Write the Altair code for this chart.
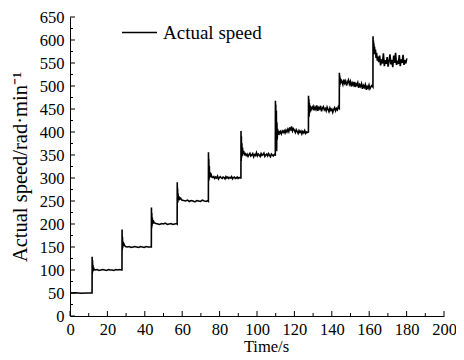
import altair as alt
import numpy as np
import pandas as pd

# ---------------- data ----------------
# level 50 segment
seg0_t = [0, 3, 6, 9, 11.8]
seg0_v = [50, 50.5, 49.5, 50, 50]

# each step: transient times/values, plateau start, plateau sampling step, plateau values
s1_t = [11.8, 11.85, 11.95, 12.05, 12.15, 12.3, 12.45, 12.65, 12.9]
s1_v = [50, 129, 92, 121, 96, 111, 98, 105, 101]
s1_p = [100, 101, 99, 100, 101, 100, 99, 101, 100, 100, 99, 101, 100, 101, 100]

s2_t = [27.8, 27.85, 27.95, 28.05, 28.15, 28.3, 28.5, 28.8, 29.2]
s2_v = [100, 188, 143, 172, 148, 162, 152, 157, 153]
s2_p = [151, 150, 151, 149, 150, 151, 150, 149, 151, 150, 149, 151, 150, 150]

s3_t = [43.5, 43.55, 43.65, 43.75, 43.85, 44.0, 44.2, 44.5, 44.9, 45.4]
s3_v = [150, 236, 191, 224, 195, 214, 200, 208, 203, 202]
s3_p = [201, 200, 199, 201, 200, 202, 199, 200, 201, 199, 200, 201]

s4_t = [57.3, 57.35, 57.45, 57.55, 57.65, 57.8, 58.0, 58.3, 58.7, 59.2]
s4_v = [200, 291, 246, 277, 247, 266, 252, 260, 254, 256]
s4_p = [252, 251, 250, 252, 249, 251, 250, 248, 251, 250, 249, 252, 250, 249, 251]

s5_t = [74.0, 74.05, 74.15, 74.25, 74.35, 74.5, 74.65, 74.85, 75.1, 75.5, 75.9]
s5_v = [250, 356, 293, 342, 296, 326, 300, 313, 303, 307, 302]
s5_p = [301, 303, 299, 302, 300, 304, 298, 301, 303, 300, 299, 302, 301, 298, 303,
        300, 302, 299, 301, 300, 303, 298, 301, 302, 299, 300, 302, 299, 301, 300]

s6_t = [91.4, 91.45, 91.55, 91.65, 91.75, 91.9, 92.05, 92.25, 92.5, 92.85, 93.25]
s6_v = [300, 402, 337, 391, 344, 376, 348, 366, 352, 359, 351]
s6_p = [353, 349, 352, 347, 351, 354, 348, 350, 353, 346, 351, 349, 355, 348, 352, 350,
        347, 353, 349, 351, 354, 347, 350, 352, 348, 353, 349, 346, 352, 350, 348, 351]

s7_t = [109.8, 109.85, 109.95, 110.05, 110.2, 110.35, 110.5, 110.65, 110.8, 111.0, 111.3, 111.6]
s7_v = [350, 468, 412, 460, 376, 446, 358, 421, 384, 407, 394, 402]
s7_p = [397, 401, 396, 402, 399, 403, 398, 404, 400, 406, 401, 410, 403, 412, 402, 407,
        404, 399, 405, 401, 397, 403, 399, 402, 396, 401, 398, 403, 397, 400, 399]

s8_t = [127.5, 127.55, 127.65, 127.75, 127.85, 128.0, 128.15, 128.35, 128.55, 128.85, 129.15]
s8_v = [400, 479, 438, 471, 433, 463, 441, 458, 444, 455, 447]
s8_p = [452, 456, 447, 454, 449, 458, 446, 453, 450, 457, 445, 452, 455, 448, 451,
        446, 454, 449, 444, 452, 447, 450, 443, 449, 453, 446, 451, 448, 455]

s9_t = [144.0, 144.05, 144.15, 144.25, 144.4, 144.55, 144.75, 145.0]
s9_v = [452, 529, 498, 523, 502, 518, 506, 514]
s9_p = [509, 503, 514, 506, 511, 501, 508, 513, 504, 510, 499, 507, 502, 509, 498, 505,
        501, 507, 496, 503, 499, 505, 494, 501, 497, 503, 492, 499, 495, 502, 494, 498, 501]

s10_t = [162.0, 162.05, 162.15, 162.25, 162.35, 162.5, 162.65, 162.85, 163.05, 163.35,
         163.65, 163.95, 164.35, 164.75]
s10_v = [498, 608, 568, 599, 574, 593, 571, 586, 569, 579, 561, 572, 555, 564]
s10_p = [552, 566, 545, 558, 549, 571, 543, 556, 548, 563, 542, 554, 569, 547, 557, 541,
         566, 550, 572, 546, 555, 548, 567, 543, 558, 550, 568, 546, 556, 549, 560]

steps = [
    (s1_t, s1_v, 13.5, 1.0, s1_p),
    (s2_t, s2_v, 29.7, 1.0, s2_p),
    (s3_t, s3_v, 46.0, 1.0, s3_p),
    (s4_t, s4_v, 59.8, 1.0, s4_p),
    (s5_t, s5_v, 76.4, 0.5, s5_p),
    (s6_t, s6_v, 93.7, 0.5, s6_p),
    (s7_t, s7_v, 112.0, 0.5, s7_p),
    (s8_t, s8_v, 129.5, 0.5, s8_p),
    (s9_t, s9_v, 145.4, 0.5, s9_p),
    (s10_t, s10_v, 165.1, 0.5, s10_p),
]

x_major = list(range(0, 201, 20))
x_minor = list(range(10, 200, 20))
y_major = list(range(0, 651, 50))
y_minor = list(range(25, 650, 50))

# ---------------- build table ----------------
T = list(seg0_t)
V = list(seg0_v)
for tt, vv, p0, dt, pv in steps:
    T += tt
    V += vv
    T += [round(p0 + dt * i, 3) for i in range(len(pv))]
    V += pv
df = pd.DataFrame({"t": T, "v": V, "series": "Actual speed"})

W, H = 374, 299
FONT = "Liberation Serif"

xscale = alt.Scale(domain=[0, 200], nice=False, zero=False)
yscale = alt.Scale(domain=[0, 650], nice=False)
xaxis = alt.Axis(values=x_major, title="Time/s", ticks=False, grid=False,
                 labelPadding=5, titlePadding=1, format="d", labelFlush=False,
                 labelFontSize=16.5, titleFontSize=16.5, titleX=196)
yaxis = alt.Axis(values=y_major, title="Actual speed/rad·min⁻¹", ticks=False,
                 grid=False, labelPadding=6, titlePadding=9, format="d",
                 labelFlush=False, labelFontSize=16.5, titleFontSize=20.5)

line = alt.Chart(df).mark_line(strokeWidth=1.6, color="black").encode(
    x=alt.X("t:Q", scale=xscale, axis=xaxis),
    y=alt.Y("v:Q", scale=yscale, axis=yaxis),
    color=alt.Color("series:N", scale=alt.Scale(range=["black"]),
                    legend=alt.Legend(title=None, orient="none", legendX=51, legendY=-3,
                                      symbolType="stroke", symbolSize=1225,
                                      symbolStrokeWidth=1.3, labelFont=FONT,
                                      labelFontSize=19, labelColor="black",
                                      labelOffset=5, padding=0)),
)

def xticks(vals, ln):
    return alt.Chart(pd.DataFrame({"t": vals})).mark_rule(color="black", strokeWidth=1).encode(
        x=alt.X("t:Q", scale=xscale, axis=xaxis), y=alt.value(H), y2=alt.value(H - ln))

def yticks(vals, ln):
    return alt.Chart(pd.DataFrame({"v": vals})).mark_rule(color="black", strokeWidth=1).encode(
        y=alt.Y("v:Q", scale=yscale, axis=yaxis), x=alt.value(0), x2=alt.value(ln))

chart = alt.layer(
    line, xticks(x_major, 5), xticks(x_minor, 3), yticks(y_major, 5), yticks(y_minor, 3)
).properties(
    width=W, height=H,
    autosize=alt.AutoSizeParams(type="none"),
    padding={"left": 62, "top": 9, "right": 12, "bottom": 44},
).configure(background="white").configure_view(stroke=None).configure_axis(
    domainColor="black", domainWidth=1, labelFont=FONT,
    labelColor="black", titleFont=FONT, titleColor="black",
    titleFontWeight="normal",
)

chart.save("out.html", embed_options={"renderer": "svg", "actions": False})
